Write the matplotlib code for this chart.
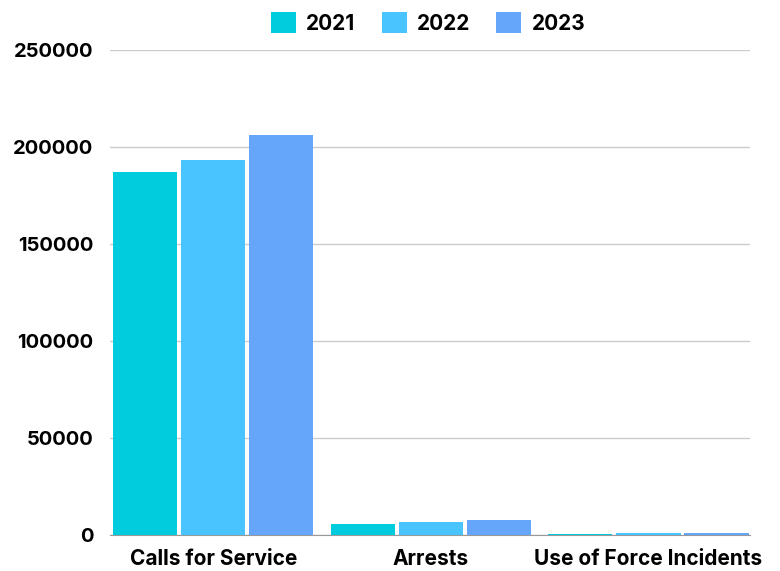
import numpy as np
import matplotlib
matplotlib.use("Agg")
import matplotlib.pyplot as plt

# ----------------------------
# data
# ----------------------------
categories = ["Calls for Service", "Arrests", "Use of Force Incidents"]
years = ["2021", "2022", "2023"]
values_2021 = [187000, 5700, 500]
values_2022 = [193300, 6700, 900]
values_2023 = [206300, 7600, 1300]
colors = ["#00CCDD", "#4AC4FF", "#66A6FA"]

plt.rcParams["font.family"] = ["Inter", "DejaVu Sans"]

fig = plt.figure(figsize=(7.8, 5.71), dpi=100)
ax = fig.add_axes([0.141, 0.063, 0.82, 0.85])

x = np.arange(len(categories))
width = 0.295
offsets = [-0.313, 0.0, 0.313]
series = [values_2021, values_2022, values_2023]

for off, vals, col, lab in zip(offsets, series, colors, years):
    ax.bar(x + off, vals, width, color=col, label=lab, zorder=3)

ax.set_ylim(0, 250000)
ax.set_xlim(-0.475, 2.465)
ax.set_yticks(np.arange(0, 250001, 50000))
ax.set_xticks(x)
ax.set_xticklabels(categories, fontsize=15, fontweight="bold")
for t in ax.get_yticklabels():
    t.set_fontsize(14.5)
    t.set_fontweight("bold")

ax.grid(axis="y", color="#CCCCCC", linewidth=1, zorder=0)
for s in ["top", "right", "left"]:
    ax.spines[s].set_visible(False)
ax.spines["bottom"].set_color("#999999")
ax.tick_params(axis="y", length=0, pad=12)
ax.tick_params(axis="x", length=0, pad=10)

leg = fig.legend(loc="upper center", bbox_to_anchor=(0.549, 1.012), ncol=3,
                 frameon=False, handlelength=1.2, handleheight=1.2,
                 columnspacing=1.25, handletextpad=0.5,
                 prop={"weight": "bold", "size": 15})

fig.savefig("out.png", dpi=100)
